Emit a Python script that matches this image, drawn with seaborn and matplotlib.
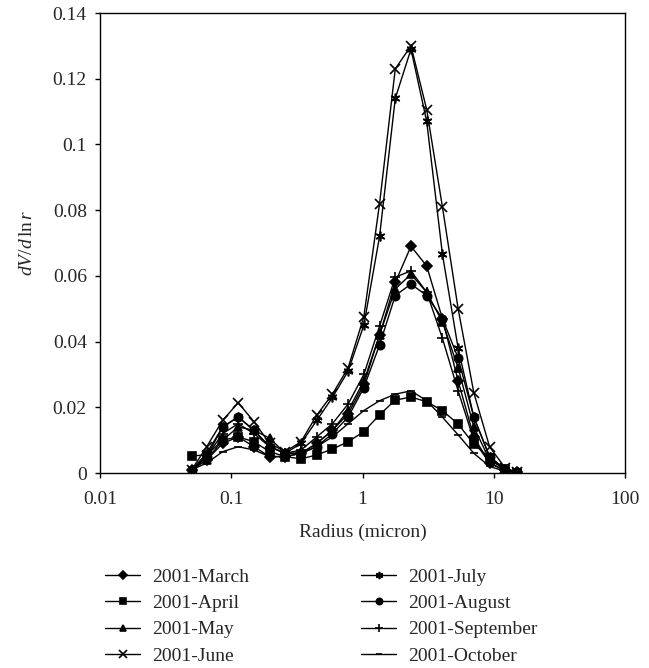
import matplotlib
matplotlib.use("Agg")
import matplotlib.pyplot as plt
import seaborn as sns
import pandas as pd
import numpy as np
from matplotlib.ticker import FixedLocator, FixedFormatter, NullLocator

radius = [0.050, 0.065, 0.086, 0.113, 0.149, 0.196, 0.258, 0.340, 0.448, 0.590,
          0.777, 1.024, 1.349, 1.777, 2.341, 3.084, 4.063, 5.353, 7.052, 9.290,
          12.239, 15.000]

march = [0.001, 0.004, 0.009, 0.011, 0.008, 0.005, 0.005, 0.006, 0.009, 0.013,
         0.018, 0.027, 0.042, 0.058, 0.069, 0.063, 0.047, 0.028, 0.011, 0.003,
         0.0008, 0.0002]
april = [0.0052, 0.0055, 0.0100, 0.0110, 0.0095, 0.0065, 0.0050, 0.0043, 0.0055, 0.0073,
         0.0095, 0.0126, 0.0177, 0.0222, 0.0231, 0.0217, 0.0190, 0.0149, 0.0088, 0.0046,
         0.0012, 0.0001]
may = [0.001, 0.004, 0.010, 0.014, 0.013, 0.0106, 0.006, 0.006, 0.009, 0.013,
       0.019, 0.028, 0.042, 0.056, 0.0605, 0.055, 0.046, 0.032, 0.014, 0.004,
       0.001, 0.0002]
june = [0.001, 0.008, 0.016, 0.0214, 0.0156, 0.009, 0.0065, 0.0095, 0.0176, 0.024,
        0.032, 0.0476, 0.082, 0.123, 0.130, 0.1106, 0.081, 0.050, 0.0244, 0.008,
        0.0015, 0.0003]
july = [0.001, 0.006, 0.014, 0.017, 0.013, 0.008, 0.006, 0.009, 0.016, 0.023,
        0.031, 0.045, 0.072, 0.114, 0.129, 0.107, 0.0666, 0.038, 0.017, 0.005,
        0.001, 0.0002]
august = [0.001, 0.005, 0.014, 0.0171, 0.013, 0.008, 0.006, 0.006, 0.008, 0.012,
          0.017, 0.026, 0.039, 0.054, 0.0575, 0.054, 0.047, 0.035, 0.017, 0.005,
          0.001, 0.0002]
september = [0.001, 0.005, 0.012, 0.015, 0.012, 0.008, 0.006, 0.007, 0.011, 0.015,
             0.021, 0.030, 0.0447, 0.0596, 0.0615, 0.055, 0.041, 0.025, 0.010, 0.003,
             0.0007, 0.0001]
october = [0.001, 0.003, 0.0065, 0.008, 0.007, 0.005, 0.005, 0.006, 0.008, 0.011,
           0.015, 0.019, 0.022, 0.024, 0.025, 0.022, 0.017, 0.0116, 0.006, 0.002,
           0.0005, 0.0001]

months = ["2001-March", "2001-April", "2001-May", "2001-June",
          "2001-July", "2001-August", "2001-September", "2001-October"]
series = [march, april, may, june, july, august, september, october]

x_ticks = [0.01, 0.1, 1, 10, 100]
x_tick_labels = ["0.01", "0.1", "1", "10", "100"]
y_ticks = [0, 0.02, 0.04, 0.06, 0.08, 0.1, 0.12, 0.14]
y_tick_labels = ["0", "0.02", "0.04", "0.06", "0.08", "0.1", "0.12", "0.14"]

sns.set_style("ticks")
plt.rcParams["font.family"] = ["Liberation Serif", "DejaVu Serif"]
plt.rcParams["mathtext.fontset"] = "custom"
plt.rcParams["mathtext.rm"] = "Liberation Serif"
plt.rcParams["mathtext.it"] = "Liberation Serif:italic"

FS = 14

fig = plt.figure(figsize=(6.49, 6.68), dpi=100)
ax = fig.add_axes([100 / 649, 1 - 473 / 668, 525 / 649, 460 / 668])

marker_list = ["D", "s", "^", "x", (6, 2, 0), "o", "+", "_"]
size_list = [5, 6, 6, 7, 7, 6, 7, 6]

for month, vals, mk, ms in zip(months, series, marker_list, size_list):
    d = pd.DataFrame({"radius": radius, "value": vals})
    sns.lineplot(data=d, x="radius", y="value", ax=ax, color="black",
                 linewidth=1.0, marker=mk, markersize=ms,
                 markeredgecolor="black", markerfacecolor="black",
                 markeredgewidth=1.2, label=month, errorbar=None,
                 estimator=None)

ax.set_xscale("log")
ax.set_xlim(0.01, 100)
ax.set_ylim(0, 0.14)
ax.xaxis.set_major_locator(FixedLocator(x_ticks))
ax.xaxis.set_major_formatter(FixedFormatter(x_tick_labels))
ax.xaxis.set_minor_locator(NullLocator())
ax.yaxis.set_major_locator(FixedLocator(y_ticks))
ax.yaxis.set_major_formatter(FixedFormatter(y_tick_labels))
ax.tick_params(axis="both", labelsize=FS, length=3.5, width=1, color="black",
               direction="out")
ax.tick_params(axis="x", pad=9.5)
ax.tick_params(axis="y", pad=6)
for side in ["left", "bottom", "top", "right"]:
    ax.spines[side].set_visible(True)
    ax.spines[side].set_color("black")
    ax.spines[side].set_linewidth(1.0)

ax.set_xlabel("Radius (micron)", fontsize=FS, labelpad=11)
ax.set_ylabel(r"$\mathit{dV}/\mathit{d}\,\mathrm{ln}\,\mathit{r}$", fontsize=FS, labelpad=12)

handles, labels = ax.get_legend_handles_labels()
ax.legend(handles, labels, loc="upper left",
          bbox_to_anchor=(105 / 649, 1 - 568 / 668), bbox_transform=fig.transFigure,
          ncol=2, frameon=False, fontsize=FS, handlelength=1.8,
          handletextpad=0.6, borderpad=0, borderaxespad=0,
          columnspacing=5.8, labelspacing=0.45, markerscale=0.75)

fig.savefig("out.png", dpi=100)
